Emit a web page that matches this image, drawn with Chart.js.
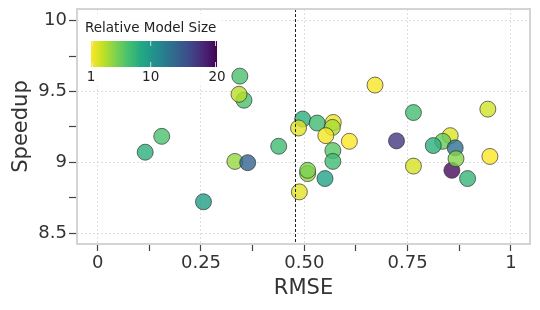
<!DOCTYPE html>
<html>
<head>
<meta charset="utf-8">
<script src="https://cdn.jsdelivr.net/npm/chart.js@4.4.1/dist/chart.umd.min.js"></script>
<style>
    html, body { margin: 0; padding: 0; background: #fff; }
</style>
</head>
<body>
<canvas id="scatterChart" width="540" height="310"></canvas>
<script>
// data
const rmse = [
    0.354, 0.344, 0.342, 0.115, 0.155, 0.332, 0.363, 0.438, 0.256,
    0.496, 0.486, 0.531, 0.570, 0.568, 0.552, 0.609, 0.569, 0.569,
    0.508, 0.508, 0.550, 0.488, 0.671, 0.764, 0.944, 0.723, 0.764,
    0.853, 0.835, 0.812, 0.865, 0.857, 0.867, 0.895, 0.949
];
const speedup = [
    9.439, 9.609, 9.481, 9.072, 9.184, 9.007, 8.998, 9.114, 8.722,
    9.306, 9.243, 9.278, 9.282, 9.247, 9.189, 9.149, 9.084, 9.007,
    8.921, 8.944, 8.886, 8.792, 9.546, 9.352, 9.376, 9.152, 8.974,
    9.189, 9.149, 9.119, 9.103, 8.944, 9.026, 8.886, 9.042
];
const modelSize = [
    6.5, 6.5, 3.0, 8.0, 6.5, 4.0, 14, 7.0, 9.5,
    8.0, 1.8, 7.0, 1.5, 3.5, 1.3, 1.0, 6.0, 7.0,
    4.0, 4.8, 9.0, 1.8, 1.2, 6.8, 2.3, 17, 2.2,
    2.0, 5.5, 8.0, 13, 19.5, 4.5, 7.5, 1.0
];
const xTickValues = [0, 0.125, 0.25, 0.375, 0.5, 0.625, 0.75, 0.875, 1];
const xTickLabels = ['0', '', '0.25', '', '0.50', '', '0.75', '', '1'];
const yTickValues = [8.5, 8.75, 9, 9.25, 9.5, 9.75, 10];
const yTickLabels = ['8.5', '', '9', '', '9.5', '', '10'];
const sizeTicks = [1, 10, 20];
const baselineRmse = 0.4775;

// viridis colormap stops
const viridisStops = ['#440154', '#482475', '#414487', '#355f8d', '#2a788e', '#21918c',
    '#22a884', '#44bf70', '#7ad151', '#bddf26', '#fde725'];

function hexToRgb(h) {
    return [parseInt(h.slice(1, 3), 16), parseInt(h.slice(3, 5), 16), parseInt(h.slice(5, 7), 16)];
}

function viridis(t, alpha) {
    t = Math.max(0, Math.min(1, t));
    const pos = t * (viridisStops.length - 1);
    const i = Math.min(Math.floor(pos), viridisStops.length - 2);
    const f = pos - i;
    const a = hexToRgb(viridisStops[i]);
    const b = hexToRgb(viridisStops[i + 1]);
    const c = a.map((v, k) => Math.round(v + (b[k] - v) * f));
    return `rgba(${c[0]},${c[1]},${c[2]},${alpha})`;
}

// size 1 -> yellow, size 20 -> purple
function sizeColor(s, alpha) {
    return viridis(1 - (s - 1) / 19, alpha);
}

const points = rmse.map((x, i) => ({ x: x, y: speedup[i] }));

// no extra room for edge labels, the layout padding decides
function noEdgePadding(scale) {
    scale.paddingTop = 0;
    scale.paddingBottom = 0;
    scale.paddingLeft = 0;
    scale.paddingRight = 0;
}

// plot frame, baseline and the colorbar legend
const extrasPlugin = {
    id: 'extras',
    afterDatasetsDraw(chart) {
        const ctx = chart.ctx;
        const area = chart.chartArea;
        const px = chart.scales.x.getPixelForValue(baselineRmse);
        ctx.save();
        ctx.strokeStyle = '#222';
        ctx.lineWidth = 1;
        ctx.setLineDash([3, 2]);
        ctx.beginPath();
        ctx.moveTo(Math.round(px) + 0.5, area.top);
        ctx.lineTo(Math.round(px) + 0.5, area.bottom);
        ctx.stroke();
        ctx.restore();
    },
    afterDraw(chart) {
        const ctx = chart.ctx;
        const area = chart.chartArea;
        ctx.save();
        // frame
        ctx.strokeStyle = '#d4d4d4';
        ctx.lineWidth = 2;
        ctx.strokeRect(area.left, area.top, area.right - area.left, area.bottom - area.top);

        // colorbar legend
        const bx = area.left + 3, by = area.top + 5;
        ctx.fillStyle = 'rgba(255,255,255,0.85)';
        ctx.fillRect(bx, by, 142, 72);
        ctx.fillStyle = '#222';
        ctx.font = '13.5px "DejaVu Sans"';
        ctx.textAlign = 'left';
        ctx.textBaseline = 'middle';
        ctx.fillText('Relative Model Size', bx + 5, by + 14);

        const cx = bx + 11, cy = by + 27, cw = 126, ch = 26;
        const grad = ctx.createLinearGradient(cx, 0, cx + cw, 0);
        for (let k = 0; k <= 20; k++) {
            grad.addColorStop(k / 20, viridis(1 - k / 20, 1));
        }
        ctx.fillStyle = grad;
        ctx.fillRect(cx, cy, cw, ch);

        ctx.fillStyle = '#222';
        ctx.textAlign = 'center';
        ctx.strokeStyle = 'rgba(230,230,230,0.9)';
        ctx.lineWidth = 1;
        sizeTicks.forEach(s => {
            const tx = cx + (s - 1) / 19 * cw;
            const sx = Math.min(Math.max(tx, cx + 1.5), cx + cw - 1.5);
            ctx.beginPath();
            ctx.moveTo(sx, cy); ctx.lineTo(sx, cy + 5);
            ctx.moveTo(sx, cy + ch - 5); ctx.lineTo(sx, cy + ch);
            ctx.stroke();
            ctx.fillText(String(s), tx, cy + ch + 10);
        });
        ctx.restore();
    }
};

Chart.defaults.font.family = '"DejaVu Sans"';
Chart.defaults.color = '#333';

const config = {
    type: 'scatter',
    data: {
        datasets: [{
            data: points,
            backgroundColor: modelSize.map(s => sizeColor(s, 0.8)),
            borderColor: 'rgba(40,40,40,0.65)',
            borderWidth: 1,
            pointRadius: 8,
            pointHoverRadius: 8
        }]
    },
    options: {
        responsive: false,
        animation: false,
        events: [],
        layout: { padding: { top: 7, right: 10, left: 0, bottom: 0 } },
        plugins: { legend: { display: false }, tooltip: { enabled: false } },
        scales: {
            x: {
                type: 'linear',
                min: -0.05,
                max: 1.046,
                afterBuildTicks: scale => { scale.ticks = xTickValues.map(v => ({ value: v })); },
                afterFit: scale => { scale.height = 66; noEdgePadding(scale); },
                ticks: {
                    autoSkip: false,
                    maxRotation: 0,
                    padding: 2,
                    font: { size: 18 },
                    color: '#333',
                    callback: (value, index) => xTickLabels[index]
                },
                grid: {
                    color: c => (c.tick && xTickLabels[c.index] !== '') ? '#dedede' : 'rgba(0,0,0,0)',
                    lineWidth: 1,
                    drawTicks: true,
                    tickLength: 7,
                    tickColor: '#444',
                    tickWidth: 1.2
                },
                border: { display: false, dash: [2, 2] },
                title: {
                    display: true,
                    text: 'RMSE',
                    color: '#333',
                    font: { size: 21 },
                    padding: { top: 0, bottom: 9 }
                }
            },
            y: {
                type: 'linear',
                min: 8.424,
                max: 10.083,
                afterBuildTicks: scale => { scale.ticks = yTickValues.map(v => ({ value: v })); },
                afterFit: scale => { scale.width = 77; noEdgePadding(scale); },
                ticks: {
                    autoSkip: false,
                    padding: 2,
                    font: { size: 18 },
                    color: '#333',
                    callback: (value, index) => yTickLabels[index]
                },
                grid: {
                    color: c => (c.tick && yTickLabels[c.index] !== '') ? '#dedede' : 'rgba(0,0,0,0)',
                    lineWidth: 1,
                    drawTicks: true,
                    tickLength: 8,
                    tickColor: '#444',
                    tickWidth: 1.2
                },
                border: { display: false, dash: [2, 2] },
                title: {
                    display: true,
                    text: 'Speedup',
                    color: '#333',
                    font: { size: 21 },
                    padding: { top: 9, bottom: 0 }
                }
            }
        }
    },
    plugins: [extrasPlugin]
};

const myChart = new Chart(document.getElementById('scatterChart'), config);
</script>
</body>
</html>
